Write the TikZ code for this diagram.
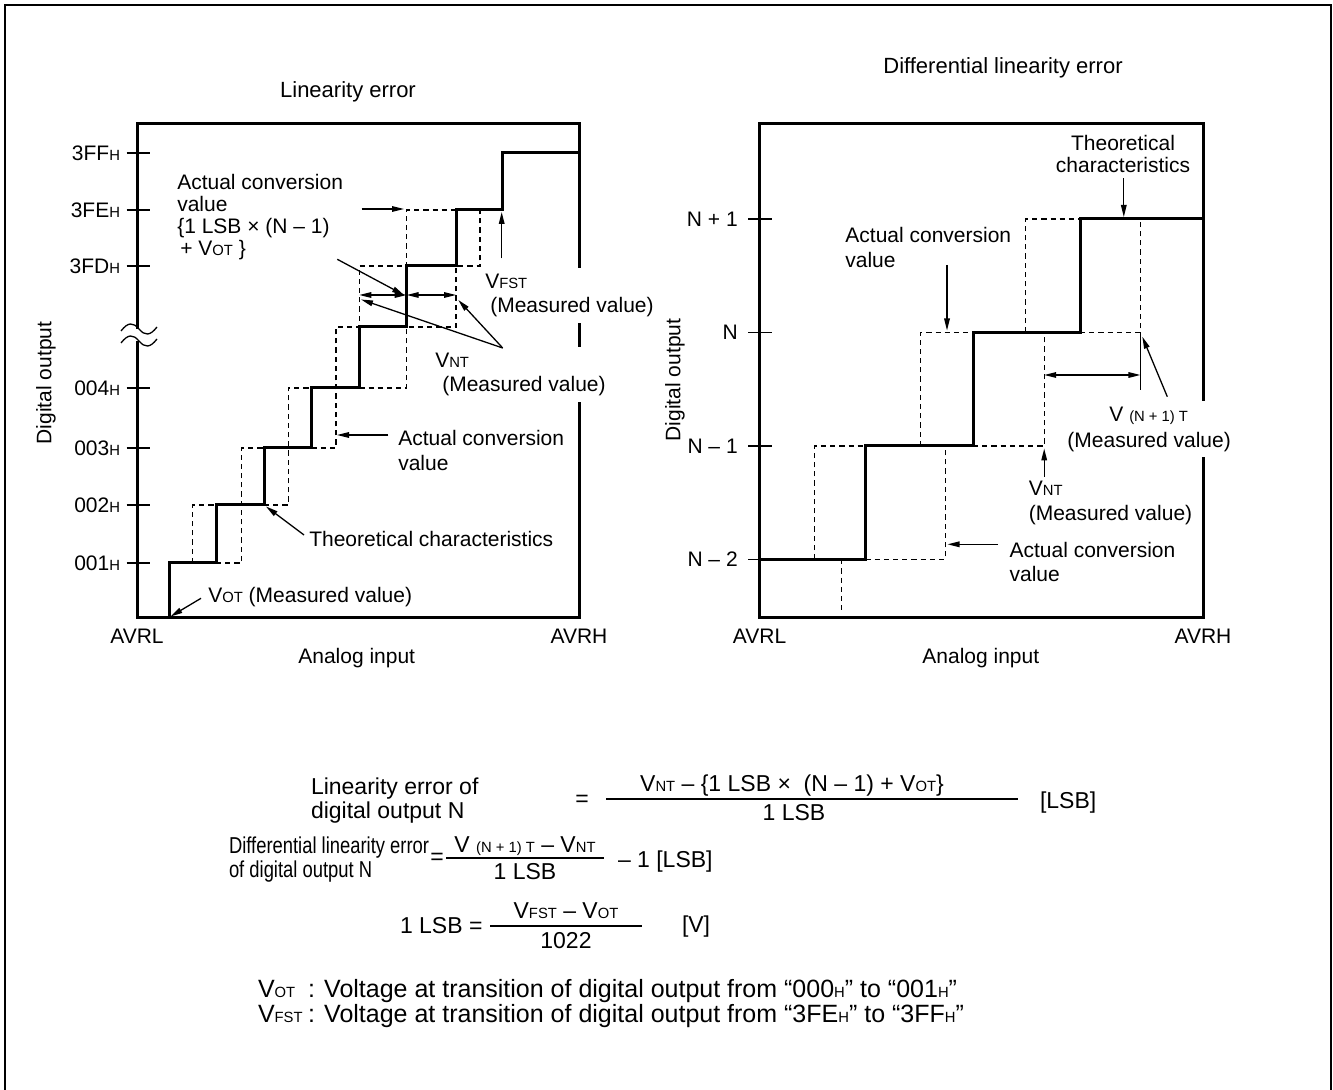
\documentclass[tikz,border=0pt]{standalone}
\usepackage{fontspec}
\usepackage{graphicx}
\setmainfont{Liberation Sans}
\usetikzlibrary{arrows.meta}

\newcommand{\sm}[1]{{\fontsize{7.4}{8}\selectfont #1}}
\newcommand{\narrow}[1]{\scalebox{0.8}[1]{#1}}

\begin{document}
\begin{tikzpicture}[x=0.5pt, y=-0.5pt,
    font=\fontsize{10.5}{12.2}\selectfont,
    lbl/.style={inner sep=0pt, outer sep=0pt},
    mask/.style={lbl, fill=white, inner xsep=1pt, inner ysep=3pt},
    title/.style={lbl, font=\fontsize{11}{13}\selectfont},
    eqtext/.style={lbl, font=\fontsize{11.5}{12}\selectfont},
    note/.style={lbl, anchor=base west, font=\fontsize{12.5}{14}\selectfont},
    frame/.style={line width=1pt},
    box/.style={line width=1.5pt},
    stairs/.style={line width=1.5pt},
    thinline/.style={line width=0.65pt},
    dashline/.style={line width=0.6pt, dash pattern=on 2.6pt off 2pt},
    arr/.style={thinline, -{Triangle[length=6pt, width=2.8pt]}},
    dbl/.style={thinline, {Triangle[length=6pt, width=2.8pt]}-{Triangle[length=6pt, width=2.8pt]}}]
  \useasboundingbox (0,0) rectangle (1333,1090);
  \draw[frame] (5.3,1090) -- (5.3,4.7) -- (1331.3,4.7) -- (1331.3,1090);

  % linearity error
  \node[title] (title-le) at (348,92) {Linearity error};
  \draw[box] (137,329) -- (137,124) -- (579,124) -- (579,618) -- (137,618) -- (137,341);
  \draw[thinline] (121,331) .. controls (128,322) and (133,322) .. (139,329) .. controls (145,336) and (150,336) .. (157,327);
  \draw[thinline] (121,343) .. controls (128,334) and (133,334) .. (139,341) .. controls (145,348) and (150,348) .. (157,339);
  \foreach \y/\lab [count=\i] in {563/001, 505/002, 448/003, 388/004, 266/3FD, 210/3FE, 153/3FF} {
    \draw[thinline] (126.7,\y) -- (150,\y);
    \node[lbl, anchor=east] (le-tick\i) at (120,\y) {\lab\sm{H}};
  }
  \node[lbl, rotate=90] (le-yaxis) at (46,383) {Digital output};
  \node[lbl] (le-avrl) at (137,636.7) {AVRL};
  \node[lbl] (le-avrh) at (579,636.7) {AVRH};
  \node[lbl] (le-xaxis) at (356.7,658.3) {Analog input};

  \draw[dashline] (192.7,563) -- (192.7,505) -- (216,505);
  \draw[dashline] (216,563) -- (241.7,563) -- (241.7,448) -- (264,448);
  \draw[dashline] (264,505) -- (288.3,505) -- (288.3,388) -- (311.7,388);
  \draw[dashline] (311.7,448) -- (336,448) -- (336,327) -- (359.3,327) -- (359.3,266) -- (406.7,266) -- (406.7,210) -- (456,210);
  \draw[dashline] (359.3,388) -- (406.7,388) -- (406.7,327) -- (456,327) -- (456,266) -- (480,266) -- (480,210);
  \draw[stairs] (169.3,618) -- (169.3,563) -- (216,563) -- (216,505) -- (264,505) -- (264,448) -- (311.7,448) -- (311.7,388)
    -- (359.3,388) -- (359.3,327) -- (406.7,327) -- (406.7,266) -- (456,266) -- (456,210) -- (502.7,210) -- (502.7,153) -- (579,153);

  \node[lbl, anchor=north west, align=left, font=\fontsize{10.5}{11.1}\selectfont] (le-acv1) at (177.3,174) {Actual conversion\\value\\\{1 LSB × (N – 1)\\\hspace{1.5pt}+ V\sm{OT} \}};
  \node[mask, anchor=north west, align=left] (le-vfst) at (483.3,268) {V\sm{FST}\\\hspace{2.5pt}(Measured value)};
  \node[mask, anchor=north west, align=left] (le-vnt) at (433.3,347) {V\sm{NT}\\\hspace{3.5pt}(Measured value)};
  \node[lbl, anchor=north west, align=left, font=\fontsize{10.5}{12.4}\selectfont] (le-acv2) at (398.3,430.5) {Actual conversion\\value};
  \node[lbl, anchor=west] (le-theo) at (309.3,539.3) {Theoretical characteristics};
  \node[lbl, anchor=west] (le-vot) at (208.3,596.7) {V\sm{OT} (Measured value)};

  \coordinate (le-acv1-a) at (361.7,209);
  \coordinate (le-acv1-b) at (404,209);
  \coordinate (le-acv1-c) at (337.3,259.3);
  \coordinate (le-acv1-d) at (404,295);
  \coordinate (le-n1) at (359.3,295);
  \coordinate (le-n2) at (406.7,295);
  \coordinate (le-n3) at (456,295);
  \coordinate (le-vnt-a) at (502.7,348);
  \coordinate (le-vnt-b) at (361,299.5);
  \coordinate (le-vnt-c) at (458.3,300);
  \coordinate (le-vfst-a) at (501.7,258.3);
  \coordinate (le-vfst-b) at (501.7,212);
  \coordinate (le-acv2-a) at (388.3,435);
  \coordinate (le-acv2-b) at (337,435);
  \coordinate (le-theo-a) at (304,535);
  \coordinate (le-theo-b) at (266,506.5);
  \coordinate (le-vot-a) at (201,598.3);
  \coordinate (le-vot-b) at (170.5,616.5);
  \draw[arr] (le-acv1-a) -- (le-acv1-b);
  \draw[arr] (le-acv1-c) -- (le-acv1-d);
  \draw[dbl] (le-n1) -- (le-n2);
  \draw[dbl] (le-n2) -- (le-n3);
  \draw[arr] (le-vnt-a) -- (le-vnt-b);
  \draw[arr] (le-vnt-a) -- (le-vnt-c);
  \draw[arr] (le-vfst-a) -- (le-vfst-b);
  \draw[arr] (le-acv2-a) -- (le-acv2-b);
  \draw[arr] (le-theo-a) -- (le-theo-b);
  \draw[arr] (le-vot-a) -- (le-vot-b);

  % differential linearity error
  \node[title] (title-dle) at (1003,68) {Differential linearity error};
  \draw[box] (759.6,124) rectangle (1203,618);
  \foreach \y/\lab [count=\i] in {559.3/N – 2, 446/N – 1, 332.3/N, 219/N + 1} {
    \draw[thinline] (748,\y) -- (772,\y);
    \node[lbl, anchor=east] (dle-tick\i) at (737.7,\y) {\lab};
  }
  \node[lbl, rotate=90] (dle-yaxis) at (675,380) {Digital output};
  \node[lbl] (dle-avrl) at (759.6,636.7) {AVRL};
  \node[lbl] (dle-avrh) at (1203,636.7) {AVRH};
  \node[lbl] (dle-xaxis) at (980.8,658.3) {Analog input};

  \draw[dashline] (814.6,559.3) -- (814.6,446) -- (865.4,446);
  \draw[dashline] (841.5,559.3) -- (841.5,611.7);
  \draw[dashline] (865.4,559.3) -- (945.4,559.3) -- (945.4,446);
  \draw[dashline] (920.4,446) -- (920.4,332.3) -- (973,332.3);
  \draw[dashline] (973,446) -- (1044.2,446) -- (1044.2,332.3);
  \draw[dashline] (1025.8,332.3) -- (1025.8,219) -- (1080,219);
  \draw[dashline] (1080,332.3) -- (1140.4,332.3) -- (1140.4,219);
  \draw[stairs] (759.6,559.3) -- (865.4,559.3) -- (865.4,446) -- (973,446) -- (973,332.3) -- (1080,332.3) -- (1080,219) -- (1203,219);

  \node[lbl, anchor=north, align=center, font=\fontsize{10.5}{11.1}\selectfont] (dle-theo) at (1123,135.5) {Theoretical\\characteristics};
  \node[lbl, anchor=north west, align=left, font=\fontsize{10.5}{12.4}\selectfont] (dle-acv1) at (845.4,227.5) {Actual conversion\\value};
  \node[mask, anchor=north west, align=left, font=\fontsize{10.5}{12.8}\selectfont] (dle-vn1t) at (1065.4,401) {\hspace{21pt}V \sm{(N + 1) T}\\(Measured value)};
  \node[lbl, anchor=north west, align=left, font=\fontsize{10.5}{12.4}\selectfont] (dle-vnt) at (1028.8,481) {V\sm{NT}\\(Measured value)};
  \node[lbl, anchor=north west, align=left, font=\fontsize{10.5}{12}\selectfont] (dle-acv2) at (1009.6,541.8) {Actual conversion\\value};

  \coordinate (dle-ext-a) at (1140.4,332.3);
  \coordinate (dle-ext-b) at (1140.4,390);
  \coordinate (dle-w1) at (1044.2,375);
  \coordinate (dle-w2) at (1140.4,375);
  \coordinate (dle-theo-a) at (1123.8,178.3);
  \coordinate (dle-theo-b) at (1123.8,217);
  \coordinate (dle-acv1-a) at (947,265);
  \coordinate (dle-acv1-b) at (947,330.5);
  \coordinate (dle-vn1t-a) at (1167.3,396.7);
  \coordinate (dle-vn1t-b) at (1142.3,336.7);
  \coordinate (dle-vnt-a) at (1044.2,476.7);
  \coordinate (dle-vnt-b) at (1044.2,448.5);
  \coordinate (dle-acv2-a) at (998,544.3);
  \coordinate (dle-acv2-b) at (947.5,544.3);
  \draw[thinline] (dle-ext-a) -- (dle-ext-b);
  \draw[dbl] (dle-w1) -- (dle-w2);
  \draw[arr] (dle-theo-a) -- (dle-theo-b);
  \draw[arr] (dle-acv1-a) -- (dle-acv1-b);
  \draw[arr] (dle-vn1t-a) -- (dle-vn1t-b);
  \draw[arr] (dle-vnt-a) -- (dle-vnt-b);
  \draw[arr] (dle-acv2-a) -- (dle-acv2-b);

  % formulas
  \node[eqtext, anchor=west, align=left] (eq1-txt) at (311,801) {Linearity error of\\digital output N};
  \node[eqtext] (eq1-eq) at (582,801) {=};
  \node[eqtext] (eq1-num) at (792,786) {V\sm{NT} – \{1 LSB × \ (N – 1) + V\sm{OT}\}};
  \node[eqtext] (eq1-den) at (794,813) {1 LSB};
  \node[eqtext, anchor=west] (eq1-unit) at (1040,803) {[LSB]};
  \draw[thinline] (606,799) -- (1018,799);

  \node[eqtext, anchor=west, align=left] (eq2-txt) at (229,860) {\narrow{Differential linearity error}\\\narrow{of digital output N}};
  \node[eqtext] (eq2-eq) at (437,859) {=};
  \node[eqtext] (eq2-num) at (525,846) {V \sm{(N + 1) T} – V\sm{NT}};
  \node[eqtext] (eq2-den) at (525,872) {1 LSB};
  \node[eqtext, anchor=west] (eq2-unit) at (618,862) {– 1 [LSB]};
  \draw[thinline] (446,858) -- (604,858);

  \node[eqtext, anchor=west] (eq3-lhs) at (400,926) {1 LSB =};
  \node[eqtext] (eq3-num) at (566,911) {V\sm{FST} – V\sm{OT}};
  \node[eqtext] (eq3-den) at (566,941) {1022};
  \node[eqtext, anchor=west] (eq3-unit) at (682,927) {[V]};
  \draw[thinline] (490,926) -- (642,926);

  \node[note] (vot-sym) at (258,997) {V\sm{OT}};
  \node[note] (vot-def) at (308,997) {: Voltage at transition of digital output from “000\sm{H}” to “001\sm{H}”};
  \node[note] (vfst-sym) at (258,1022) {V\sm{FST}};
  \node[note] (vfst-def) at (308,1022) {: Voltage at transition of digital output from “3FE\sm{H}” to “3FF\sm{H}”};
\end{tikzpicture}
\end{document}
